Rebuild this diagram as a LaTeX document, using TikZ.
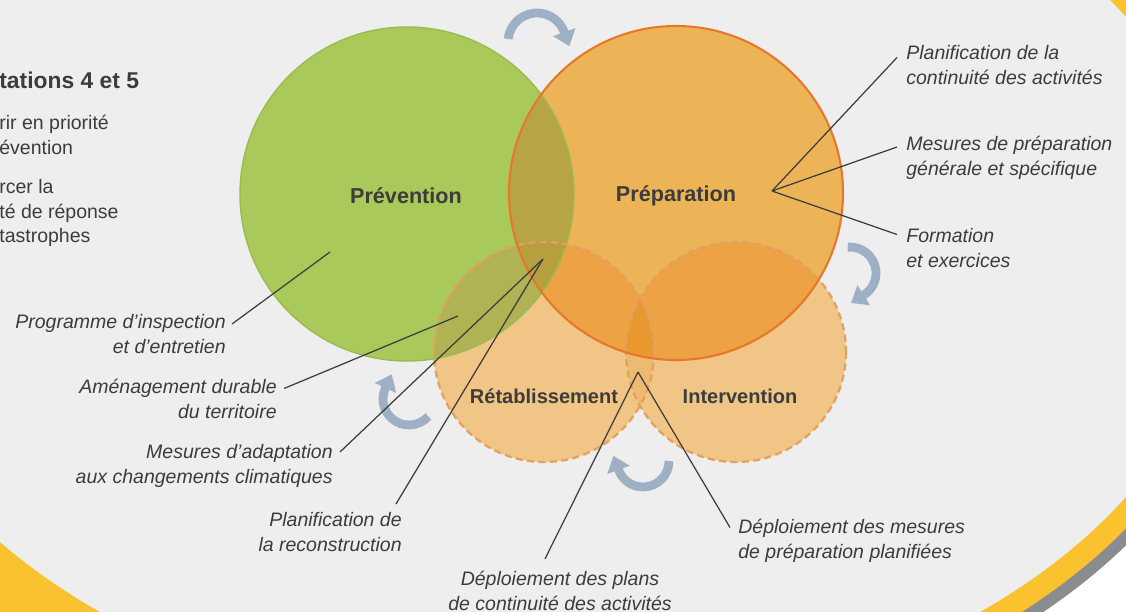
\documentclass[tikz,border=0pt]{standalone}
\usepackage{fontspec}
\setmainfont{Liberation Sans}
\usepackage{tikz}
\usetikzlibrary{calc}
\usetikzlibrary{arrows.meta}

\definecolor{panelgray}{HTML}{EEEEEE}
\definecolor{bandyellow}{HTML}{F9C22E}
\definecolor{shadowgray}{HTML}{8B8C8F}
\definecolor{prevgreen}{HTML}{A9C95B}
\definecolor{prevedge}{HTML}{9ABB4E}
\definecolor{preporange}{HTML}{ECB457}
\definecolor{prepedge}{HTML}{E8772C}
\definecolor{olive}{HTML}{B7A444}
\definecolor{paleorange}{HTML}{F0C585}
\definecolor{dashedge}{HTML}{E2A160}
\definecolor{olivegreen}{HTML}{B0B254}
\definecolor{deeporange}{HTML}{EDA243}
\definecolor{olivebrown}{HTML}{B59F3F}
\definecolor{lensorange}{HTML}{EEBA70}
\definecolor{coreorange}{HTML}{E9982F}
\definecolor{cyclblue}{HTML}{9EB0C4}
\definecolor{txtgray}{HTML}{3C3C3C}

% the four phases (pixel units, y down)
\def\prevdisk{(407,194) circle[radius=167]}
\def\prepdisk{(676,193) circle[radius=167]}
\def\retdisk{(544,352) circle[radius=110]}
\def\intdisk{(736,352) circle[radius=110]}

\begin{document}
\begin{tikzpicture}[x=0.02cm, y=-0.02cm,
    lbl/.style={font=\fontsize{11.1}{14.2}\selectfont\itshape, text=txtgray, inner sep=0pt},
    side/.style={font=\fontsize{11.1}{14.2}\selectfont, text=txtgray, inner sep=0pt, align=left, anchor=west},
    lead/.style={draw=txtgray, line width=0.7pt},
    phase/.style={font=\fontsize{12.3}{14}\selectfont\bfseries, text=txtgray},
    subphase/.style={font=\fontsize{11.4}{14}\selectfont\bfseries, text=txtgray},
    turn/.style={draw=cyclblue, line width=5pt, -{Triangle[length=8.5pt, width=13pt]}}]

    \useasboundingbox (0,0) rectangle (1126,612);
    \clip (0,0) rectangle (1126,612);

    % Background panel
    \fill[white] (0,0) rectangle (1126,612);
    \fill[shadowgray] (545,262) ellipse[x radius=712, y radius=490];
    \fill[bandyellow] (540,257) ellipse[x radius=707, y radius=485];
    \fill[bandyellow] (0,300) rectangle (540,612);
    \fill[panelgray] (540,257) ellipse[x radius=685, y radius=463];

    % Fill the circles and their overlaps
    \fill[prevgreen] \prevdisk;
    \fill[preporange] \prepdisk;
    \begin{scope}
        \clip \prevdisk;
        \fill[olive] \prepdisk;
    \end{scope}
    \fill[paleorange] \retdisk;
    \fill[paleorange] \intdisk;
    \begin{scope}
        \clip \retdisk;
        \fill[olivegreen] \prevdisk;
    \end{scope}
    \begin{scope}
        \clip \retdisk;
        \fill[lensorange] \intdisk;
    \end{scope}
    \begin{scope}
        \clip \prepdisk;
        \fill[deeporange] \retdisk;
        \fill[deeporange] \intdisk;
    \end{scope}
    \begin{scope}
        \clip \prepdisk;
        \clip \prevdisk;
        \fill[olivebrown] \retdisk;
    \end{scope}
    \begin{scope}
        \clip \prepdisk;
        \clip \retdisk;
        \fill[coreorange] \intdisk;
    \end{scope}

    % Outlines
    \draw[prevedge, line width=0.8pt] \prevdisk;
    \draw[dashedge, line width=1.3pt, dash pattern=on 4pt off 2.5pt] \retdisk;
    \draw[dashedge, line width=1.3pt, dash pattern=on 4pt off 2.5pt] \intdisk;
    \draw[prepedge, line width=1.2pt] \prepdisk;

    % Cycle arrows
    \draw[turn] (537,42) ++(-174:29) arc[start angle=-174, end angle=-20, radius=29] -- ++(70:15);
    \draw[turn] (850,273) ++(-95:26) arc[start angle=-95, end angle=58, radius=26] -- ++(148:15);
    \draw[turn] (643,461) ++(0:26) arc[start angle=0, end angle=160, radius=26] -- ++(250:15);
    \draw[turn] (409,399) ++(42:26) arc[start angle=42, end angle=205, radius=26] -- ++(295:15);

    % Phase names
    \node[phase] (prevlbl) at (406,196) {Prévention};
    \node[phase] (preplbl) at (676,196) {Préparation};
    \node[subphase] (retlbl) at (544,396) {Rétablissement};
    \node[subphase] (intlbl) at (740,396) {Intervention};

    % Fan points of the leaders
    \coordinate (prepfan) at (772,191);
    \coordinate (prevfan) at (543,259);
    \coordinate (intfan) at (638,372);
    \coordinate (prevpt) at (330,252);
    \coordinate (retpt) at (458,316);

    % Left text (cut by the frame)
    \node[side, font=\fontsize{13}{16}\selectfont\bfseries] (orient) at (-1,80) {tations 4 et 5};
    \node[side] (agir) at (-1,135) {rir en priorité\\évention};
    \node[side] (renf) at (-1,213) {rcer la\\té de réponse\\tastrophes};

    % Labels on the right
    \node[lbl, align=left, anchor=west] (planif) at (906,65.5) {Planification de la\\continuité des activités};
    \node[lbl, align=left, anchor=west] (mesprep) at (906,158) {Mesures de préparation\\générale et spécifique};
    \node[lbl, align=left, anchor=west] (form) at (906,248.5) {Formation\\et exercices};

    % Labels on the left
    \node[lbl, align=right, anchor=east] (progr) at (226,334) {Programme d’inspection\\et d’entretien};
    \node[lbl, align=right, anchor=east] (amen) at (277,398.5) {Aménagement durable\\du territoire};
    \node[lbl, align=right, anchor=east] (adapt) at (333,466) {Mesures d’adaptation\\aux changements climatiques};
    \node[lbl, align=right, anchor=east] (reconst) at (402,532) {Planification de\\la reconstruction};

    % Labels at the bottom
    \node[lbl, align=center] (depplans) at (560,591) {Déploiement des plans\\de continuité des activités};
    \node[lbl, align=left, anchor=west] (depmes) at (738,540.5) {Déploiement des mesures\\de préparation planifiées};

    % Leaders
    \draw[lead] (prepfan) -- ($(planif.west)+(-9,-8)$);
    \draw[lead] (prepfan) -- ($(mesprep.west)+(-9,-11)$);
    \draw[lead] (prepfan) -- ($(form.west)+(-9,-14)$);
    \draw[lead] (prevpt) -- ($(progr.east)+(6,-10)$);
    \draw[lead] (retpt) -- ($(amen.east)+(7,-10)$);
    \draw[lead] (prevfan) -- ($(adapt.east)+(7,-14)$);
    \draw[lead] (prevfan) -- ($(reconst.north east)+(-6,-8)$);
    \draw[lead] (intfan) -- ($(depplans.north)+(-15,-12)$);
    \draw[lead] (intfan) -- ($(depmes.west)+(-8,-13)$);

\end{tikzpicture}
\end{document}
